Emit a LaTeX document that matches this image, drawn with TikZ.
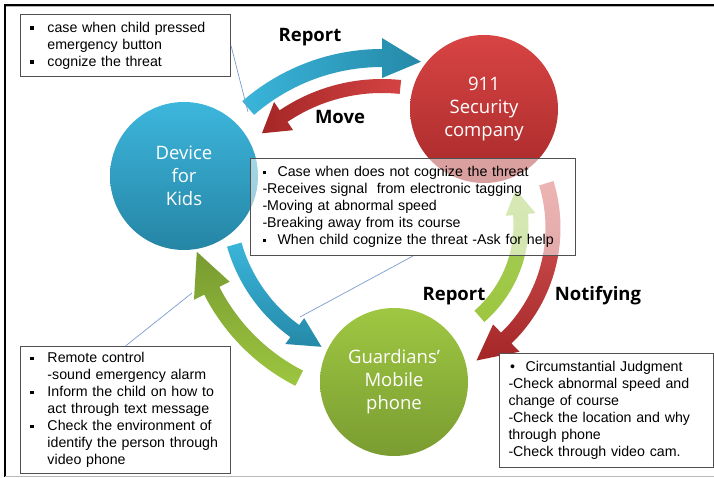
\documentclass[tikz,border=0pt]{standalone}
\usepackage{fontspec}
\setmainfont{Liberation Sans}
\newfontfamily\circfont{Open Sans}
\usetikzlibrary{calc}
\definecolor{kidsT}{HTML}{3DB6DC}
\definecolor{kidsB}{HTML}{2585A5}
\definecolor{secT}{HTML}{D84444}
\definecolor{secB}{HTML}{A82A2A}
\definecolor{grdT}{HTML}{9FC742}
\definecolor{grdB}{HTML}{7A9C31}
\definecolor{bluL}{HTML}{3AB5DA}
\definecolor{bluD}{HTML}{2589A8}
\definecolor{redL}{HTML}{D44343}
\definecolor{redD}{HTML}{A52626}
\definecolor{grnL}{HTML}{9DC640}
\definecolor{grnD}{HTML}{789A30}
\definecolor{grnP}{HTML}{A6CD5C}
\definecolor{redP}{HTML}{D85A5A}
\definecolor{boxgray}{HTML}{505050}
\definecolor{connblue}{HTML}{7C9DD0}
% #1 style, #2 centre, #3 radius, #4 half shaft, #5 half head, #6 tail angle, #7 head base angle, #8 tip angle
\newcommand{\myarcarrow}[8]{%
  \path[#1] ($(#2)+({#6}:{#3+#4})$) arc[start angle={#6}, end angle={#7}, radius={#3+#4}]
    -- ($(#2)+({#7}:{#3+#5})$) -- ($(#2)+({#8}:{#3})$) -- ($(#2)+({#7}:{#3-#5})$)
    -- ($(#2)+({#7}:{#3-#4})$) arc[start angle={#7}, end angle={#6}, radius={#3-#4}] -- cycle;}
\newcommand{\sqb}[1][17pt]{\makebox[#1][l]{\rule[2.2pt]{3.6pt}{3.6pt}}}
\newcommand{\rdb}{\makebox[17pt][l]{\hspace{1.5pt}\textbullet}}
\begin{document}
\begin{tikzpicture}[x=1pt,y=-1pt,
  box/.style={draw=boxgray, line width=1pt, fill=white, align=left, anchor=north west,
    font=\fontsize{14.2}{17}\selectfont, inner ysep=0pt},
  circ/.style={circle, minimum size=148pt, inner sep=0pt, text=white, align=center,
    font=\circfont\fontsize{18.5}{23}\selectfont},
  lbl/.style={font=\circfont\bfseries\fontsize{18.5}{22}\selectfont, inner sep=1pt},
  conn/.style={draw=connblue, line width=0.7pt}]
\useasboundingbox (0,0) rectangle (714,478);
\fill[white] (0,0) rectangle (714,478);
% frame
\draw[gray!60, line width=1pt] (6,7) -- (714,7);
\draw[line width=2pt] (714,5) -- (5,5) -- (5,477);
\draw[gray!55, line width=0.8pt] (5,476.5) -- (714,476.5);
% arrows
\myarcarrow{left color=bluL, right color=bluD}{382,262}{204}{9}{20}{229}{270}{281}
\myarcarrow{left color=redD, right color=redL}{382,262}{176}{7}{17}{276}{236}{227}
\myarcarrow{top color=bluL, bottom color=bluD}{390,200}{162}{7.5}{16}{164}{126}{115}
\myarcarrow{top color=grnD, bottom color=grnL}{390,200}{200}{8.5}{20}{117}{153}{165}
\myarcarrow{top color=grnP, bottom color=grnL}{400,225}{121}{7.5}{15}{49}{-5}{-17}
\myarcarrow{top color=redP, bottom color=redD}{400,228}{153}{7.5}{19}{-17}{46}{60}
% circles
\node[circ, top color=kidsT, bottom color=kidsB] (kids) at (184,176) {Device\\for\\Kids};
\node[circ, top color=secT, bottom color=secB] (sec) at (484,109) {911\\Security\\company};
\node[circ, top color=grdT, bottom color=grdB] (grd) at (394,382) {Guardians’\\Mobile\\phone};
% connectors
\coordinate (cA) at (248,112);
\coordinate (cB) at (300,317);
\coordinate (cC) at (192,293);
% boxes
\node[box, text width=190pt, inner xsep=10pt, minimum height=62pt] (boxA) at (20,14)
  {\sqb case when child pressed\\\hspace*{17pt}emergency button\\\sqb cognize the threat};
\node[box, fill opacity=0.55, text opacity=1, text width=301pt, inner xsep=12pt, minimum height=97pt] (boxB) at (250,158)
  {\sqb[15pt]Case when does not cognize the threat\\
   -Receives signal\ \ from electronic tagging\\
   -Moving at abnormal speed\\
   -Breaking away from its course\\
   \sqb[15pt]When child cognize the threat -Ask for help};
\node[box, text width=190pt, inner xsep=10pt, minimum height=127pt] (boxC) at (20,346)
  {\sqb Remote control\\
   \hspace*{17pt}-sound emergency alarm\\
   \sqb Inform the child on how to\\
   \hspace*{17pt}act through text message\\
   \sqb Check the environment of\\
   \hspace*{17pt}identify the person through\\
   \hspace*{17pt}video phone};
\node[box, text width=196pt, inner xsep=9pt, minimum height=114pt] (boxD) at (499,353)
  {\rdb Circumstantial Judgment\\
   -Check abnormal speed and\\
   change of course\\
   -Check the location and why\\
   through phone\\
   -Check through video cam.};
\draw[conn] (boxA.east) -- (cA);
\draw[conn] (boxB.south) -- (cB);
\draw[conn] (boxC.north) -- (cC);
% labels
\node[lbl] (lrepA) at (310,37) {Report};
\node[lbl] (lmove) at (340,117) {Move};
\node[lbl] (lrepB) at (454,296) {Report};
\node[lbl] (lnot) at (598,296) {Notifying};
\end{tikzpicture}
\end{document}
